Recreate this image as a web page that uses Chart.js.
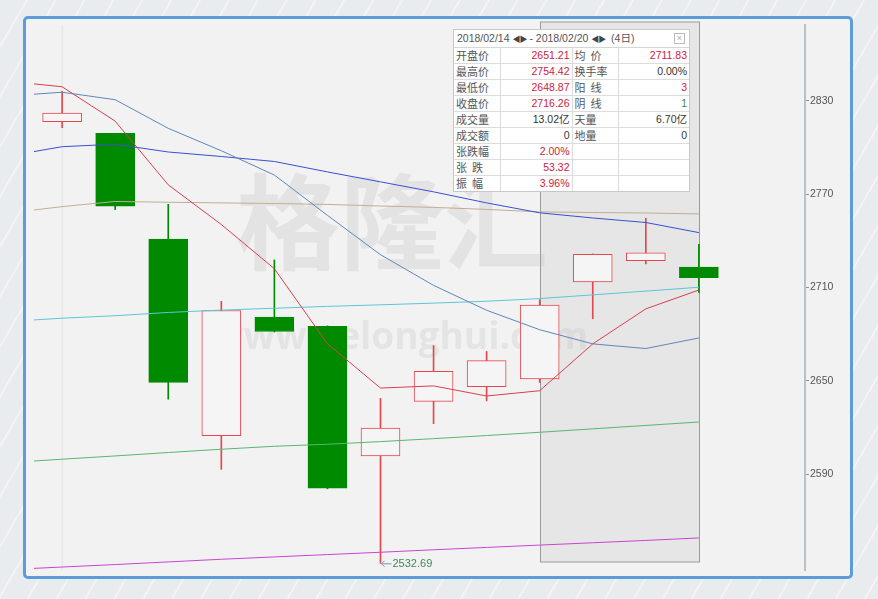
<!DOCTYPE html>
<html>
<head>
<meta charset="utf-8">
<script src="https://cdn.jsdelivr.net/npm/chart.js@4/dist/chart.umd.min.js"></script>
<style>
  html,body{margin:0;padding:0;}
  body{width:878px;height:599px;overflow:hidden;position:relative;
    background:#e9ecef repeating-linear-gradient(120deg, rgba(255,255,255,0) 0px, rgba(255,255,255,0) 22px, rgba(255,255,255,0.55) 23px, rgba(255,255,255,0) 25px);}
  #frame{position:absolute;left:23px;top:16px;width:824px;height:557px;border:3px solid #5d9cd8;border-radius:5px;background:#f2f2f2;}
  #wrap{position:absolute;left:0;top:0;width:878px;height:599px;}
  #info{position:absolute;left:453px;top:29px;width:235px;background:#fff;border:1px solid #c8c8c8;
    font-family:"Liberation Sans","Noto Sans CJK SC",sans-serif;font-size:10.5px;color:#444;}
  #info .title{height:17px;line-height:17px;padding-left:3px;color:#555;border-bottom:1px solid #d6d6d6;position:relative;}
  #info .title .ar{font-size:8px;color:#444;letter-spacing:-1px;}
  #info .cls{position:absolute;right:4px;top:3px;width:9px;height:9px;border:1px solid #bbb;font-size:9px;line-height:8px;text-align:center;color:#aaa;}
  #info table{border-collapse:collapse;width:100%;}
  #info td{height:15px;line-height:15px;border:1px solid #dcdcdc;padding:0 2px;white-space:nowrap;}
  #info tr:first-child td{border-top:none;}
  #info td:first-child{border-left:none;}
  #info td:last-child{border-right:none;}
  #info tr:last-child td{border-bottom:none;}
  #info td.l{font-family:"Noto Sans CJK SC",sans-serif;color:#555;font-size:11px;}
  #info td.v{text-align:right;}
  .r{color:#d0213a;} .g{color:#2e8b2e;} .k{color:#333;}
</style>
</head>
<body>
<div id="frame"></div>
<div id="wrap"><canvas id="c" width="878" height="599"></canvas></div>
<div id="info">
  <div class="title">2018/02/14 <span class="ar">◀▶</span> - 2018/02/20 <span class="ar">◀▶</span> &nbsp;(4日)<div class="cls">×</div></div>
  <table>
    <colgroup><col style="width:46px"><col style="width:72px"><col style="width:46px"><col style="width:71px"></colgroup>
    <tr><td class="l">开盘价</td><td class="v r">2651.21</td><td class="l">均&nbsp;&nbsp;价</td><td class="v r">2711.83</td></tr>
    <tr><td class="l">最高价</td><td class="v r">2754.42</td><td class="l">换手率</td><td class="v k">0.00%</td></tr>
    <tr><td class="l">最低价</td><td class="v r">2648.87</td><td class="l">阳&nbsp;&nbsp;线</td><td class="v r">3</td></tr>
    <tr><td class="l">收盘价</td><td class="v r">2716.26</td><td class="l">阴&nbsp;&nbsp;线</td><td class="v g">1</td></tr>
    <tr><td class="l">成交量</td><td class="v k">13.02亿</td><td class="l">天量</td><td class="v k">6.70亿</td></tr>
    <tr><td class="l">成交额</td><td class="v k">0</td><td class="l">地量</td><td class="v k">0</td></tr>
    <tr><td class="l">张跌幅</td><td class="v r">2.00%</td><td class="l"></td><td class="v"></td></tr>
    <tr><td class="l">张&nbsp;&nbsp;跌</td><td class="v r">53.32</td><td class="l"></td><td class="v"></td></tr>
    <tr><td class="l">振&nbsp;&nbsp;幅</td><td class="v r">3.96%</td><td class="l"></td><td class="v"></td></tr>
  </table>
</div>
<script>
// ---- data ----
const dates  = ['02/01','02/02','02/05','02/06','02/07','02/08','02/09','02/12','02/13','02/14','02/15','02/16','02/20'];
const opens  = [2816.45, 2808.92, 2741.06, 2614.78, 2690.95, 2685.01, 2601.78, 2636.75, 2646.27, 2651.21, 2713.46, 2727.14, 2722.99];
const highs  = [2835.96, 2808.92, 2763.39, 2701.04, 2727.67, 2685.27, 2638.67, 2672.61, 2668.84, 2702.10, 2731.51, 2754.42, 2737.60];
const lows   = [2812.70, 2759.97, 2638.17, 2593.07, 2681.33, 2580.56, 2532.69, 2622.45, 2637.08, 2648.87, 2689.82, 2725.11, 2706.76];
const closes = [2821.98, 2762.13, 2648.94, 2695.14, 2681.66, 2581.00, 2619.55, 2656.00, 2662.94, 2698.63, 2731.20, 2732.22, 2716.26];
// moving-average lines start one session before the first visible candle
const maSlots = [-1, 0, 1, 2, 3, 4, 5, 6, 7, 8, 9, 10, 11, 12];
const ma5   = [2842.4, 2838.9, 2816.8, 2775.9, 2750.4, 2722.0, 2673.8, 2645.3, 2646.7, 2640.2, 2643.6, 2673.7, 2696.2, 2708.3];
const ma10  = [2833.0, 2835.4, 2830.6, 2812.2, 2797.8, 2782.2, 2756.3, 2731.0, 2711.3, 2695.3, 2682.8, 2673.7, 2670.7, 2677.5];
const ma20  = [2794.5, 2800.4, 2802.0, 2797.0, 2794.1, 2790.9, 2784.2, 2777.8, 2771.4, 2764.3, 2757.9, 2754.6, 2751.7, 2745.2];
const ma60  = [2757.8, 2761.9, 2765.2, 2764.7, 2764.3, 2763.9, 2763.3, 2762.3, 2761.4, 2760.1, 2758.5, 2758.1, 2757.8, 2757.2];
const ma120 = [2688.1, 2690.2, 2691.8, 2693.9, 2695.4, 2696.6, 2697.8, 2698.8, 2699.9, 2701.1, 2702.8, 2705.2, 2707.6, 2710.1];
const ma250 = [2597.4, 2599.6, 2601.7, 2603.9, 2606.0, 2607.9, 2609.2, 2610.9, 2612.8, 2614.8, 2616.9, 2619.1, 2621.3, 2623.5];
const ma500 = [2528.7, 2530.3, 2531.9, 2533.6, 2535.3, 2536.8, 2538.3, 2539.8, 2541.4, 2542.9, 2544.4, 2545.9, 2547.4, 2549.0];
const yTicks = [2590, 2650, 2710, 2770, 2830];
const rangeStart = '02/14', rangeEnd = '02/20';
const lowLabel = '2532.69';

// ---- styles ----
const UP = '#e5474d', DOWN = '#008a00', HOLLOW = '#f5f5f5';
const isUp = i => closes[i] >= opens[i];

function line(label, vals, color){
  return {type:'line', label, data: maSlots.map((s,k)=>({x:s, y:vals[k]})),
    borderColor:color, borderWidth:1, pointRadius:0, tension:0, fill:false, order:0, clip:0};
}

const bgPlugin = {
  id:'bg',
  beforeDatasetsDraw(chart){
    const {ctx, chartArea:a, scales:{x,y}} = chart;
    ctx.save();
    // faint vertical marker at first session
    ctx.strokeStyle = 'rgba(0,0,0,0.035)';
    ctx.lineWidth = 2;
    ctx.beginPath(); ctx.moveTo(x.getPixelForValue(0), a.top); ctx.lineTo(x.getPixelForValue(0), a.bottom); ctx.stroke();
    // selected range shading
    const i0 = dates.indexOf(rangeStart), i1 = dates.indexOf(rangeEnd);
    const x0 = Math.round(x.getPixelForValue(i0)) + 0.5, x1 = Math.round(x.getPixelForValue(i1)) + 0.5;
    const top = a.top - 3, bot = a.bottom - 8;
    ctx.fillStyle = '#e6e6e6';
    ctx.fillRect(x0, top, x1 - x0, bot - top);
    ctx.strokeStyle = '#9a9a9a'; ctx.lineWidth = 1;
    ctx.strokeRect(x0, top, x1 - x0, bot - top);
    // watermark
    ctx.fillStyle = 'rgba(170,170,170,0.2)';
    ctx.font = 'bold 104px "Noto Sans CJK SC"';
    ctx.textAlign = 'center'; ctx.textBaseline = 'middle';
    ctx.fillText('格隆汇', 392, 222);
    ctx.fillStyle = 'rgba(175,175,175,0.2)';
    ctx.font = 'bold 37px "Open Sans"';
    ctx.fillText('www.gelonghui.com', 400, 338);
    ctx.restore();
  },
  afterDatasetsDraw(chart){
    const {ctx, scales:{x,y}} = chart;
    const i = lows.indexOf(Math.min(...lows));
    const px = x.getPixelForValue(i), py = y.getPixelForValue(lows[i]);
    ctx.save();
    ctx.strokeStyle = '#7d95a8'; ctx.lineWidth = 1;
    ctx.beginPath(); ctx.moveTo(px + 1, py + 0.5); ctx.lineTo(px + 11, py + 0.5);
    ctx.moveTo(px + 1, py + 0.5); ctx.lineTo(px + 4, py - 2.5);
    ctx.moveTo(px + 1, py + 0.5); ctx.lineTo(px + 4, py + 3.5); ctx.stroke();
    ctx.fillStyle = '#3f8a55';
    ctx.font = '11px "Liberation Sans"';
    ctx.textBaseline = 'middle'; ctx.textAlign = 'left';
    ctx.fillText(lowLabel, px + 12, py + 1);
    ctx.restore();
  }
};

new Chart(document.getElementById('c'), {
  type:'bar',
  data:{
    datasets:[
      line('MA5', ma5, '#d8404e'),
      line('MA10', ma10, '#5f86b8'),
      line('MA20', ma20, '#3a4fd0'),
      line('MA60', ma60, '#bfae92'),
      line('MA120', ma120, '#5cc6d6'),
      line('MA250', ma250, '#56b86e'),
      line('MA500', ma500, '#c845d0'),
      {label:'body', data: dates.map((d,i)=>({x:i, y:[opens[i], closes[i]]})),
        backgroundColor: dates.map((d,i)=> isUp(i) ? HOLLOW : DOWN),
        borderColor: dates.map((d,i)=> isUp(i) ? UP : DOWN),
        borderWidth:1, borderSkipped:false, barThickness:39, grouped:false, order:1},
      {label:'wick', data: dates.map((d,i)=>({x:i, y:[lows[i], highs[i]]})),
        backgroundColor: dates.map((d,i)=> isUp(i) ? UP : DOWN),
        borderWidth:0, barThickness:1, grouped:false, order:2}
    ]
  },
  options:{
    responsive:false, animation:false, devicePixelRatio:1,
    layout:{padding:{left:34, top:25, bottom:29, right:0}},
    plugins:{legend:{display:false}, tooltip:{enabled:false}},
    scales:{
      x:{type:'linear', display:false, min:-0.53, max:14, offset:false},
      y:{type:'linear', position:'right', min:2528.4, max:2878.6,
        afterBuildTicks: s => { s.ticks = yTicks.map(v=>({value:v})); },
        afterFit: s => { s.width = 73; },
        grid:{drawOnChartArea:false, drawTicks:true, tickLength:4, color:'#8d9399'},
        border:{display:true, color:'#b9c0c6', width:2},
        ticks:{color:'#555', padding:1, font:{family:'Liberation Sans', size:10.5}, callback: v => String(v)}
      }
    }
  },
  plugins:[bgPlugin]
});
</script>
</body>
</html>
